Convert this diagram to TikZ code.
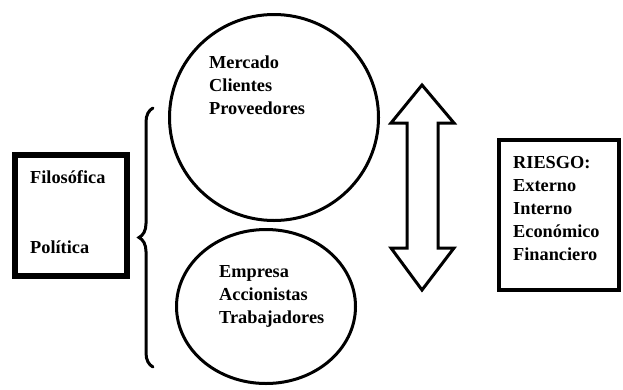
\documentclass[tikz,border=0pt]{standalone}
\usepackage{fontspec}
\setmainfont{Liberation Serif}
\usepackage{tikz}
\usetikzlibrary{shapes.geometric,decorations.pathreplacing}

\begin{document}
\begin{tikzpicture}[x=1pt,y=-1pt,
		lbl/.style={anchor=base west, align=left, inner sep=0pt, font=\fontsize{18.3}{23}\selectfont\bfseries}]
				\useasboundingbox (0,0) rectangle (623,389);
				\node[shape=rectangle, draw=black, line width=6pt, minimum width=112pt, minimum height=121pt, inner sep=0pt] (fp) at (71,215.5) {};
				\node[shape=ellipse, draw=black, line width=3pt, minimum width=209pt, minimum height=206pt, inner sep=0pt] (m) at (274,117.5) {};
				\node[shape=ellipse, draw=black, line width=3pt, minimum width=179pt, minimum height=154pt, inner sep=0pt] (e) at (266,306.5) {};
				\node[shape=rectangle, draw=black, line width=4pt, minimum width=120pt, minimum height=150pt, inner sep=0pt] (r) at (559,215) {};
				% base anchor sits on the last line
				\node[lbl] (fpt) at (30,253) {Filosófica\\[47pt]Política};
				\node[lbl] (mt) at (209,114) {Mercado\\Clientes\\Proveedores};
				\node[lbl] (et) at (219,323) {Empresa\\Accionistas\\Trabajadores};
				\node[lbl] (rt) at (513,260) {RIESGO:\\Externo\\Interno\\Económico\\Financiero};
				\draw[line width=3pt, line cap=round, decorate, decoration={brace, amplitude=14pt}] (153,367) -- (153,108);
				\draw[line width=3pt] (422,85) -- (454,123) -- (438,123) -- (438,248) -- (454,248) -- (422,290)
					-- (391,248) -- (407,248) -- (407,123) -- (391,123) -- cycle;
			\end{tikzpicture}
\end{document}
